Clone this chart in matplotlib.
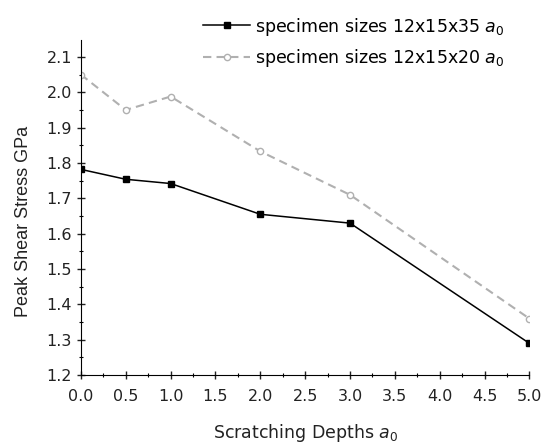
import numpy as np
import matplotlib
matplotlib.use("Agg")
from matplotlib import pyplot as plt
from matplotlib.ticker import MultipleLocator

plt.rcParams['font.family'] = ['DejaVu Sans']
plt.rcParams['mathtext.fontset'] = 'dejavusans'

# scratching depths and peak shear stress (GPa)
depths = [0.0, 0.5, 1.0, 2.0, 3.0, 5.0]
stress_35 = [1.782, 1.754, 1.742, 1.655, 1.630, 1.290]
stress_20 = [2.050, 1.950, 1.988, 1.833, 1.710, 1.360]
label_35 = "specimen sizes 12x15x35 $a_0$"
label_20 = "specimen sizes 12x15x20 $a_0$"
yticks = np.arange(1.2, 2.15, 0.1)

fig = plt.figure(figsize=(5.43, 4.44), dpi=100)
ax = fig.add_axes([0.149, 0.155, 0.826, 0.755])

ax.plot(depths, stress_35, color='black', lw=1.1, marker='s', ms=4.5,
        label=label_35)
ax.plot(depths, stress_20, color='#b0b0b0', lw=1.5, ls=(0, (4, 2.5)),
        marker='o', ms=4.5, mfc='white', mec='#b0b0b0', label=label_20)

ax.set_xlim(0, 5.0)
ax.set_ylim(1.2, 2.148)
ax.xaxis.set_major_locator(MultipleLocator(0.5))
ax.xaxis.set_minor_locator(MultipleLocator(0.25))
ax.yaxis.set_minor_locator(MultipleLocator(0.05))
ax.set_xticklabels([f"{v:.1f}" for v in ax.get_xticks()])
ax.set_yticks(yticks)
ax.set_yticklabels([f"{v:.1f}" for v in yticks])
ax.spines['top'].set_visible(False)
ax.spines['right'].set_visible(False)
ax.tick_params(which='major', direction='inout', length=6, width=1,
               labelsize=11.5, colors='#222222')
ax.tick_params(axis='x', which='major', pad=7)
ax.tick_params(which='minor', direction='inout', length=3, width=0.8)

ax.set_xlabel("Scratching Depths $a_0$", fontsize=12.5, color='#222222')
ax.xaxis.set_label_coords(0.5, -0.14)
ax.set_ylabel("Peak Shear Stress GPa", fontsize=13, color='#222222',
              family='Liberation Sans')
ax.yaxis.set_label_coords(-0.108, 0.46)

fig.legend(loc='upper left', bbox_to_anchor=(0.374, 0.965), frameon=False,
           fontsize=12.5, handlelength=2.7, handletextpad=0.3,
           labelspacing=0.55, borderpad=0, borderaxespad=0)

fig.savefig("out.png", dpi=100)
